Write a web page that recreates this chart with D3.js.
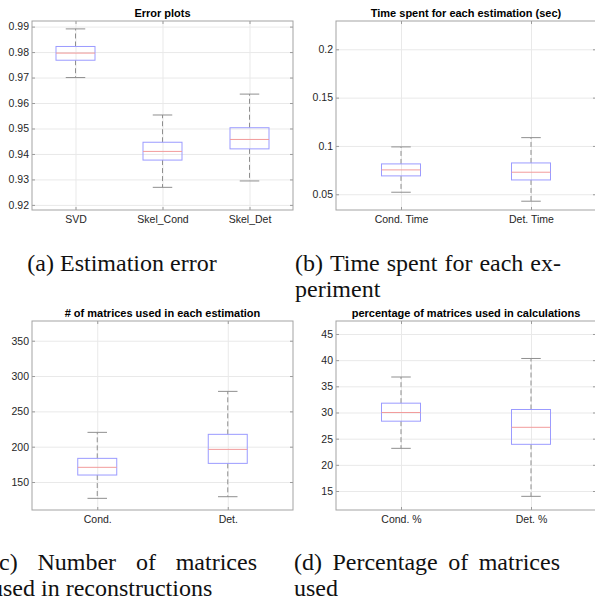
<!doctype html>
<html>
<head>
    <meta charset="utf-8">
    <style>
        body {
            margin: 0;
            background: #fff;
        }

        svg {
            display: block;
        }

        .tick text {
            font-family: 'Liberation Sans', Arial, sans-serif;
            font-size: 10.5px;
            fill: #262626;
        }

        .tick line {
            stroke: #9a9a9a;
        }

        .grid .tick line {
            stroke: #e9e9e9;
        }

        .grid path,
        .ax path {
            display: none;
        }

        rect.frame {
            fill: none;
            stroke: #a3a3a3;
            stroke-width: 1;
        }

        text.title {
            font-family: 'Liberation Sans', Arial, sans-serif;
            font-size: 11px;
            font-weight: 700;
            fill: #000;
        }

        text.caption {
            font-family: 'Liberation Serif', 'Times New Roman', serif;
            font-size: 24px;
            fill: #111;
        }

        .box {
            fill: none;
            stroke: #9b9bff;
        }

        .median {
            stroke: #f29b9b;
        }

        .whisker {
            stroke: #8f8f8f;
            stroke-dasharray: 5 3;
        }

        .cap {
            stroke: #8f8f8f;
        }
    </style>
    <script src="https://d3js.org/d3.v7.min.js"></script>
</head>
<body>
<svg width="595" height="601"></svg>
<script>
    // categories
    const errCats = ['SVD', 'Skel_Cond', 'Skel_Det']
    const timeCats = ['Cond. Time', 'Det. Time']
    const numCats = ['Cond.', 'Det.']
    const pctCats = ['Cond. %', 'Det. %']

    // box stats: [lower whisker, q1, median, q3, upper whisker]
    const errStats = [
        [0.9700, 0.9768, 0.9796, 0.9822, 0.9891],
        [0.9269, 0.9376, 0.9410, 0.9446, 0.9553],
        [0.9294, 0.9420, 0.9457, 0.9503, 0.9635]
    ]
    const timeStats = [
        [0.0521, 0.0690, 0.0752, 0.0814, 0.0990],
        [0.0428, 0.0648, 0.0728, 0.0824, 0.1086]
    ]
    const numStats = [
        [126.9, 159.9, 170.8, 183.5, 220.3],
        [129.2, 176.4, 196.2, 217.5, 278.3]
    ]
    const pctStats = [
        [23.15, 28.34, 30.00, 31.78, 36.78],
        [13.98, 23.92, 27.17, 30.57, 40.32]
    ]

    // y ticks
    const errTicks = [0.92, 0.93, 0.94, 0.95, 0.96, 0.97, 0.98, 0.99]
    const timeTicks = [0.05, 0.1, 0.15, 0.2]
    const numTicks = [150, 200, 250, 300, 350]
    const pctTicks = [15, 20, 25, 30, 35, 40, 45]

    // y limits
    const errLim = [0.918, 0.9922]
    const timeLim = [0.0337, 0.2293]
    const numLim = [110.4, 377.9]
    const pctLim = [11.37, 47.48]

    const titles = [
        'Error plots',
        'Time spent for each estimation (sec)',
        '# of matrices used in each estimation',
        'percentage of matrices used in calculations'
    ]

    const svg = d3.select('svg')
    svg.append('rect').attr('width', 595).attr('height', 601).attr('fill', '#fff')

    const boxWidth = 39
    const tickLen = 3

    function drawPanel(left, top, w, h, cats, stats, ticks, lim, title) {
        const g = svg.append('g')
        const bottom = top + h
        const right = left + w

        const x = d3.scaleLinear()
            .domain([0.5, cats.length + 0.5])
            .range([left, right])
        const y = d3.scaleLinear()
            .domain(lim)
            .range([bottom, top])
        const idx = cats.map((c, i) => i + 1)

        // grid
        g.append('g')
            .attr('class', 'grid')
            .attr('transform', `translate(${left},0)`)
            .call(d3.axisLeft(y).tickValues(ticks).tickSize(-w).tickFormat(''))
        g.append('g')
            .attr('class', 'grid')
            .attr('transform', `translate(0,${bottom})`)
            .call(d3.axisBottom(x).tickValues(idx).tickSize(-h).tickFormat(''))

        // axes with inward ticks
        g.append('g')
            .attr('class', 'ax')
            .attr('transform', `translate(${left},0)`)
            .call(d3.axisLeft(y).tickValues(ticks).tickSize(-tickLen).tickPadding(3)
                .tickFormat(d => String(+d.toFixed(4))))
        g.append('g')
            .attr('class', 'ax')
            .attr('transform', `translate(${right},0)`)
            .call(d3.axisRight(y).tickValues(ticks).tickSize(-tickLen).tickFormat(''))
        g.append('g')
            .attr('class', 'ax')
            .attr('transform', `translate(0,${bottom})`)
            .call(d3.axisBottom(x).tickValues(idx).tickSize(-tickLen).tickPadding(6)
                .tickFormat(i => cats[i - 1]))
        g.append('g')
            .attr('class', 'ax')
            .attr('transform', `translate(0,${top})`)
            .call(d3.axisTop(x).tickValues(idx).tickSize(-tickLen).tickFormat(''))

        g.append('rect')
            .attr('class', 'frame')
            .attr('x', left)
            .attr('y', top)
            .attr('width', w)
            .attr('height', h)

        g.append('text')
            .attr('class', 'title')
            .attr('x', (left + right) / 2)
            .attr('y', top - 4)
            .attr('text-anchor', 'middle')
            .text(title)

        const boxes = g.selectAll('g.bx')
            .data(stats)
            .enter()
            .append('g')
            .attr('class', 'bx')

        const cx = (d, i) => x(i + 1)

        boxes.append('line')
            .attr('class', 'whisker')
            .attr('x1', cx).attr('x2', cx)
            .attr('y1', d => y(d[3])).attr('y2', d => y(d[4]))
        boxes.append('line')
            .attr('class', 'whisker')
            .attr('x1', cx).attr('x2', cx)
            .attr('y1', d => y(d[1])).attr('y2', d => y(d[0]))
        boxes.append('line')
            .attr('class', 'cap')
            .attr('x1', (d, i) => cx(d, i) - boxWidth / 4)
            .attr('x2', (d, i) => cx(d, i) + boxWidth / 4)
            .attr('y1', d => y(d[4])).attr('y2', d => y(d[4]))
        boxes.append('line')
            .attr('class', 'cap')
            .attr('x1', (d, i) => cx(d, i) - boxWidth / 4)
            .attr('x2', (d, i) => cx(d, i) + boxWidth / 4)
            .attr('y1', d => y(d[0])).attr('y2', d => y(d[0]))
        boxes.append('rect')
            .attr('class', 'box')
            .attr('x', (d, i) => cx(d, i) - boxWidth / 2)
            .attr('width', boxWidth)
            .attr('y', d => y(d[3]))
            .attr('height', d => y(d[1]) - y(d[3]))
        boxes.append('line')
            .attr('class', 'median')
            .attr('x1', (d, i) => cx(d, i) - boxWidth / 2)
            .attr('x2', (d, i) => cx(d, i) + boxWidth / 2)
            .attr('y1', d => y(d[2])).attr('y2', d => y(d[2]))
    }

    drawPanel(32, 21, 261, 189, errCats, errStats, errTicks, errLim, titles[0])
    drawPanel(336, 21, 260, 189, timeCats, timeStats, timeTicks, timeLim, titles[1])
    drawPanel(32, 321, 261, 189, numCats, numStats, numTicks, numLim, titles[2])
    drawPanel(336, 321, 260, 189, pctCats, pctStats, pctTicks, pctLim, titles[3])

    // captions: each line is a list of words, justified or not
    const captions = [
        { left: -9, width: 266, y: 271, center: 122, lines: [['(a)', 'Estimation', 'error']] },
        { left: 295, width: 266, y: 271, lines: [['(b)', 'Time', 'spent', 'for', 'each', 'ex-'], ['periment']] },
        { left: -9, width: 266, y: 570, lines: [['(c)', 'Number', 'of', 'matrices'], ['used', 'in', 'reconstructions']] },
        { left: 294, width: 266, y: 570, lines: [['(d)', 'Percentage', 'of', 'matrices'], ['used']] }
    ]
    const lineGap = 26

    captions.forEach(c => {
        if (c.center !== undefined) {
            svg.append('text')
                .attr('class', 'caption')
                .attr('x', c.center)
                .attr('y', c.y)
                .attr('text-anchor', 'middle')
                .text(c.lines[0].join(' '))
            return
        }
        c.lines.forEach((words, li) => {
            const justify = li < c.lines.length - 1
            const nodes = words.map(wd => svg.append('text')
                .attr('class', 'caption')
                .attr('y', c.y + li * lineGap)
                .text(wd))
            const widths = nodes.map(n => n.node().getComputedTextLength())
            const total = d3.sum(widths)
            const gap = justify ? (c.width - total) / (words.length - 1) : 6
            let xp = c.left
            nodes.forEach((n, k) => {
                n.attr('x', xp)
                xp += widths[k] + gap
            })
        })
    })
</script>
</body>
</html>
